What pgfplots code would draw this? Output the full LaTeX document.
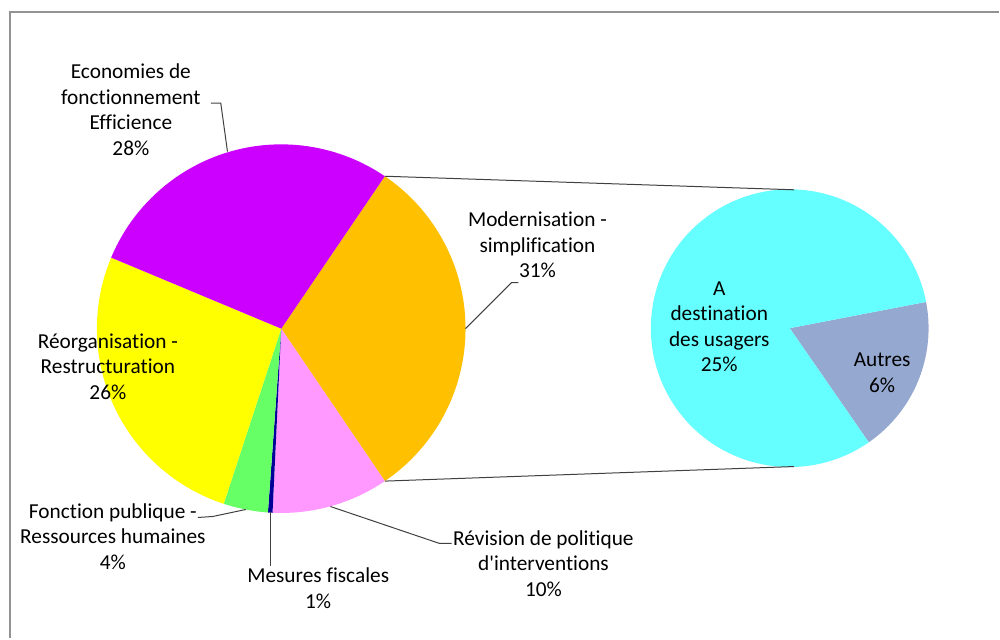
\documentclass[border=0pt]{standalone}
\usepackage{pgfplots}
\pgfplotsset{compat=1.18}
\usepackage{fontspec}
\setmainfont{Carlito}[Ligatures={NoCommon,TeXOff}]

% shares (percent)
\def\vMod{31.0}   % Modernisation - simplification
\def\vRev{10.25}  % Revision de politique d'interventions
\def\vMes{0.4}    % Mesures fiscales
\def\vFon{3.9}    % Fonction publique
\def\vReo{26.25}  % Reorganisation
\def\vEco{28.2}   % Economies de fonctionnement
% split of Modernisation
\def\vDest{25.3}
\def\vAut{5.7}

\pgfmathsetmacro\tot{\vMod+\vRev+\vMes+\vFon+\vReo+\vEco}
\pgfmathsetmacro\aA{55.8}
\pgfmathsetmacro\aB{\aA-360*\vMod/\tot}
\pgfmathsetmacro\aC{\aB-360*\vRev/\tot}
\pgfmathsetmacro\aD{\aC-360*\vMes/\tot}
\pgfmathsetmacro\aE{\aD-360*\vFon/\tot}
\pgfmathsetmacro\aF{\aE-360*\vReo/\tot}
\pgfmathsetmacro\aG{\aF-360*\vEco/\tot}
\pgfmathsetmacro\totB{\vDest+\vAut}
\pgfmathsetmacro\bA{10.9}
\pgfmathsetmacro\bB{\bA-360*\vAut/\totB}
\pgfmathsetmacro\bC{\bB-360*\vDest/\totB}

\definecolor{cEco}{HTML}{CC00FF}
\definecolor{cMod}{HTML}{FFC000}
\definecolor{cRev}{HTML}{FF99FF}
\definecolor{cMes}{HTML}{000099}
\definecolor{cFon}{HTML}{66FF66}
\definecolor{cReo}{HTML}{FFFF00}
\definecolor{cDest}{HTML}{66FFFF}
\definecolor{cAut}{HTML}{95A8D0}

\tikzset{
    lbl/.style={font=\fontsize{10.7}{12.85}\selectfont, align=center, inner sep=0pt},
    lead/.style={draw=black!75, line width=0.5bp},
}

% center, radius, start, end, colour
\newcommand\slice[5]{\fill[#5] (axis cs:#1) -- ++(#3:#2) arc[start angle=#3, end angle=#4, radius=#2] -- cycle;}

\begin{document}
\begin{tikzpicture}
\begin{axis}[
    scale only axis,
    width=500bp, height=319.5bp,
    xmin=0, xmax=1000, ymin=0, ymax=639,
    hide axis, clip=false,
]
\path (axis cs:0,0) rectangle (axis cs:1000,639);
% frame
\draw[gray!85, line width=1bp] (axis cs:10,0) -- (axis cs:10,627) -- (axis cs:1000,627);

% main pie
\slice{281.5,310}{92.25bp}{\aA}{\aB}{cMod}
\slice{281.5,310}{92.25bp}{\aB}{\aC}{cRev}
\slice{281.5,310}{92.25bp}{\aC}{\aD}{cMes}
\slice{281.5,310}{92.25bp}{\aD}{\aE}{cFon}
\slice{281.5,310}{92.25bp}{\aE}{\aF}{cReo}
\slice{281.5,310}{92.25bp}{\aF}{\aG}{cEco}

% second pie
\slice{790.5,310.5}{69.5bp}{\bA}{\bB}{cAut}
\slice{790.5,310.5}{69.5bp}{\bB}{\bC}{cDest}

% connectors
\draw[lead] (axis cs:281.5,310) ++(\aA:92.25bp) -- (axis cs:795,449);
\draw[lead] (axis cs:281.5,310) ++(\aB:92.25bp) -- (axis cs:795,172);

% leader lines
\draw[lead] (axis cs:211,535.7) -- (axis cs:221,535.7) -- (axis cs:227.7,487.3);
\draw[lead] (axis cs:466,310) -- (axis cs:512,356) -- (axis cs:519,356);
\draw[lead] (axis cs:198,121) -- (axis cs:213,122) -- (axis cs:246,129);
\draw[lead] (axis cs:270.7,126) -- (axis cs:270.7,72);
\draw[lead] (axis cs:330.7,132) -- (axis cs:440,95) -- (axis cs:452,95);

% labels
\node[lbl] at (axis cs:131,529) {Economies de\\fonctionnement\\Efficience\\28\%};
\node[lbl] at (axis cs:538,394) {Modernisation -\\simplification\\31\%};
\node[lbl] at (axis cs:108,272) {Réorganisation -\\Restructuration\\26\%};
\node[lbl] at (axis cs:113,102) {Fonction publique -\\Ressources humaines\\4\%};
\node[lbl] at (axis cs:318.5,50.5) {Mesures fiscales\\1\%};
\node[lbl] at (axis cs:544,75) {Révision de politique\\d'interventions\\10\%};
\node[lbl] at (axis cs:720,312) {A\\destination\\des usagers\\25\%};
\node[lbl] at (axis cs:883,266) {Autres\\6\%};
\end{axis}
\end{tikzpicture}
\end{document}
